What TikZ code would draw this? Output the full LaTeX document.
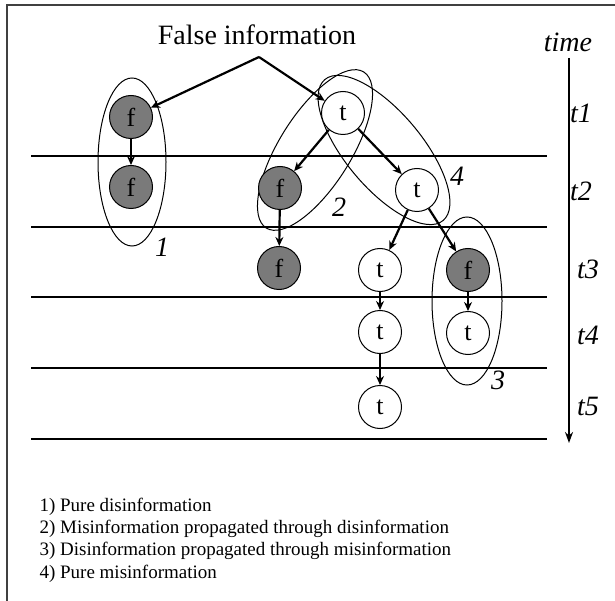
\documentclass[tikz,border=0pt]{standalone}
\usepackage{fontspec}
\setmainfont{Liberation Serif}
\usetikzlibrary{arrows.meta}

\begin{document}
\begin{tikzpicture}[x=1pt,y=-1pt,
  fnode/.style={draw,circle,line width=1pt,fill=black!52,minimum size=43pt,inner sep=0pt,font=\fontsize{26}{26}\selectfont},
  tnode/.style={draw,circle,line width=1pt,fill=white,minimum size=43pt,inner sep=0pt,font=\fontsize{26}{26}\selectfont},
  arr/.style={line width=2.2pt,-{Stealth[length=9pt,width=8pt]}},
  grp/.style={line width=1pt},
  level/.style={line width=1.5pt},
  lbl/.style={font=\fontsize{28}{28}\selectfont\itshape},
  legend/.style={anchor=west,font=\fontsize{19}{19}\selectfont}]
  \useasboundingbox (0,0) rectangle (615,601);
  \draw[line width=1.4pt, black!75] (7,601) -- (7,5) -- (615,5);

  % time levels
  \foreach \y in {156,227,297,368,439}
    \draw[level] (31,\y) -- (547,\y);

  % groups
  \draw[grp] (132,162) ellipse (34 and 84);
  \draw[grp, rotate around={58:(315,150)}] (315,150) ellipse (92 and 36);
  \draw[grp, rotate around={-50:(384,150)}] (384,150) ellipse (92 and 38);
  \draw[grp] (467,301) ellipse (35 and 84);

  \node[font=\fontsize{28}{28}\selectfont] (head) at (257,35) {False information};
  \coordinate (src) at (259,57);

  \node[fnode] (A) at (131,117) {f};
  \node[fnode] (B) at (131,187) {f};
  \node[tnode] (C) at (343,113) {t};
  \node[fnode] (D) at (280,188) {f};
  \node[tnode] (E) at (417,190) {t};
  \node[fnode] (F) at (279,268) {f};
  \node[tnode] (G) at (380,270) {t};
  \node[fnode] (H) at (468,270) {f};
  \node[tnode] (I) at (380,332) {t};
  \node[tnode] (J) at (468,333) {t};
  \node[tnode] (K) at (380,407) {t};

  \draw[arr] (src) -- (A);
  \draw[arr] (src) -- (C);
  \draw[arr] (A) -- (B);
  \draw[arr] (C) -- (D);
  \draw[arr] (C) -- (E);
  \draw[arr] (D) -- (F);
  \draw[arr] (E) -- (G);
  \draw[arr] (E) -- (H);
  \draw[arr] (G) -- (I);
  \draw[arr] (H) -- (J);
  \draw[arr] (I) -- (K);

  \node[lbl] (n1) at (162,247) {1};
  \node[lbl] (n2) at (339,207) {2};
  \node[lbl] (n3) at (498,380) {3};
  \node[lbl] (n4) at (457,176) {4};

  % time axis
  \node[lbl] (time) at (568,42) {time};
  \coordinate (tstart) at (569,58);
  \coordinate (tstop) at (569,443);
  \draw[line width=2.4pt,-{Stealth[length=11pt,width=8pt]}] (tstart) -- (tstop);
  \node[lbl] (t1) at (581,113) {t1};
  \node[lbl] (t2) at (581,191) {t2};
  \node[lbl] (t3) at (588,269) {t3};
  \node[lbl] (t4) at (588,335) {t4};
  \node[lbl] (t5) at (588,406) {t5};

  \node[legend] (k1) at (36,507) {1) Pure disinformation};
  \node[legend] (k2) at (36,529) {2) Misinformation propagated through disinformation};
  \node[legend] (k3) at (36,551) {3) Disinformation propagated through misinformation};
  \node[legend] (k4) at (36,574) {4) Pure misinformation};
\end{tikzpicture}
\end{document}
